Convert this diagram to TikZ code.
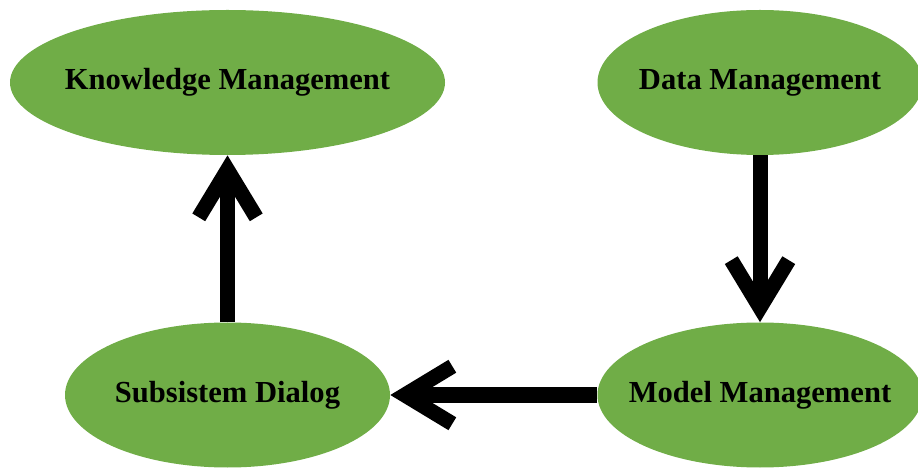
\documentclass[tikz,border=0pt]{standalone}
\usepackage{fontspec}
\setmainfont{Liberation Serif}
\usepackage{tikz}
\usetikzlibrary{arrows.meta,shapes.geometric}
\definecolor{leafgreen}{HTML}{70AD47}

\begin{document}
\begin{tikzpicture}
\useasboundingbox (0,0) rectangle (18.36,-9.36);
\begin{scope}[every node/.style={ellipse,fill=leafgreen,inner xsep=-1.5cm,inner ysep=0pt,
              minimum height=2.9cm,font=\fontsize{17.4}{20}\selectfont\bfseries}]
    \node[minimum width=8.7cm] (KM) at (4.55,-1.65) {Knowledge Management};
    \node[minimum width=6.5cm]  (DM) at (15.2,-1.65) {Data Management};
    \node[minimum width=6.5cm]  (SD) at (4.55,-7.9) {Subsistem Dialog};
     \node[minimum width=6.5cm] (MM) at (15.2,-7.9) {Model Management};
\end{scope}

\begin{scope}[>={Straight Barb[length=0.95cm,width=1.15cm]},
              every edge/.style={draw=black,line width=0.3cm}]
    \path [->] (SD) edge (KM);
    \path [->] (DM) edge (MM);
    \path [->] (MM) edge (SD);
\end{scope}
\end{tikzpicture}
\end{document}
